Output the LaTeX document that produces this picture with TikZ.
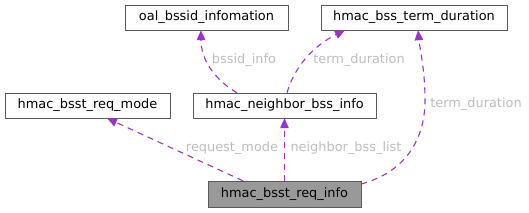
\documentclass[tikz,border=0pt]{standalone}
\usepackage{fontspec}
\setmainfont{DejaVu Sans}
\usepackage{xcolor}
\usetikzlibrary{arrows.meta,positioning,calc}

\definecolor{edgepurple}{HTML}{9A32CD}
\definecolor{labelgray}{HTML}{BDBDBD}
\definecolor{boxgray}{HTML}{5A5A5A}

\begin{document}
\begin{tikzpicture}[
  x=1pt,y=-1pt,>={Triangle[length=10pt,width=8.5pt]},
  link/.style={->,dashed,dash pattern=on 6pt off 5pt,edgepurple,line width=1.1pt},
  cls/.style={draw=boxgray,fill=white,minimum height=25pt,inner sep=0pt},
  lbl/.style={text=labelgray,inner sep=0pt},
  every node/.style={font=\fontsize{12.9}{15}\selectfont}
]
  \useasboundingbox (0,0) rectangle (529,212);
  \node[cls,minimum width=163pt] (bssid-info) at (206.5,17.5) {oal\_bssid\_infomation};
  \node[cls,minimum width=186pt] (term-duration) at (414,17.5) {hmac\_bss\_term\_duration};
  \node[cls,minimum width=165pt] (req-mode) at (87.5,105.5) {hmac\_bsst\_req\_mode};
  \node[cls,minimum width=183pt] (neighbor) at (284.5,105.5) {hmac\_neighbor\_bss\_info};
  \node[cls,minimum width=153pt,minimum height=26pt,fill=black!40] (req-info) at (284.5,194) {hmac\_bsst\_req\_info};

  \node[lbl] (lbl-bssid) at (244,60) {bssid\_info};
  \node[lbl] (lbl-term-a) at (359,60) {term\_duration};
  \node[lbl] (lbl-mode) at (232,148) {request\_mode};
  \node[lbl] (lbl-list) at (346,148) {neighbor\_bss\_list};
  \node[lbl] (lbl-term-b) at (476,104) {term\_duration};

  \draw[link] ([xshift=-41.5pt]req-info.north) -- ([xshift=19.5pt]req-mode.south);
  \draw[link] (req-info.north) -- (neighbor.south);
  \draw[link] ([yshift=10pt]req-info.east)
    .. controls (405,172) and (425,140) .. (425,100)
    .. controls (425,70) and (420,50) .. ([xshift=4pt]term-duration.south);
  \draw[link] ([xshift=-47.5pt]neighbor.north)
    .. controls (215,80) and (201,60) .. ([xshift=-5.5pt]bssid-info.south);
  \draw[link] ([xshift=2.5pt]neighbor.north)
    .. controls (295,65) and (315,45) .. ([xshift=-69pt]term-duration.south);
\end{tikzpicture}
\end{document}
